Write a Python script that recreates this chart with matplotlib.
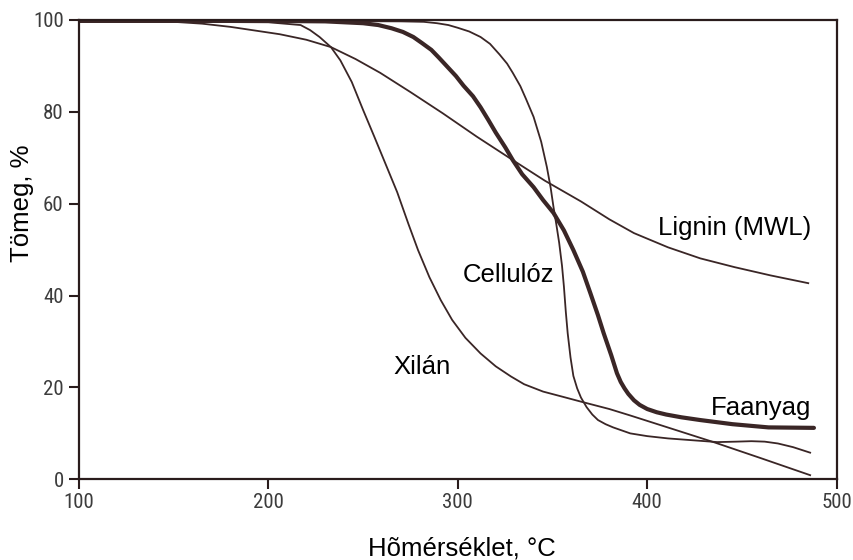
import matplotlib
matplotlib.use("Agg")
import matplotlib.pyplot as plt
from matplotlib import font_manager

# temperature (°C) and residual mass (%) for each sample
xilan_t = [100, 150, 200, 217, 222, 227, 233, 238, 244, 250, 256, 262, 268, 274,
           279, 285, 291, 297, 304, 312, 320, 328, 335, 345, 356, 366, 380, 391,
           410, 435, 460, 486]
xilan_m = [99.6, 99.6, 99.5, 98.9, 97.8, 96.3, 94.1, 91.2, 86.5, 80.4, 74.5, 68.5,
           62.5, 55.5, 49.9, 44.0, 39.0, 34.7, 30.8, 27.4, 24.6, 22.4, 20.7, 19.1,
           17.9, 16.8, 15.3, 13.9, 11.4, 8.1, 4.6, 0.9]

cell_t = [100, 200, 270, 282, 289, 295, 300, 306, 312, 317, 322, 326, 329, 333,
          336, 340, 344, 347, 349, 350.5, 352, 353.5, 355, 356, 357, 358, 359.5,
          361, 363, 365, 368, 371, 374, 378, 382, 391, 400, 411, 424, 437, 447,
          455, 462, 469, 477, 486]
cell_m = [99.8, 99.8, 99.7, 99.6, 99.3, 98.9, 98.3, 97.5, 96.3, 94.8, 92.5, 90.5,
          88.5, 85.6, 82.8, 78.9, 73.5, 68.0, 63.5, 59.3, 55.5, 51.5, 46.5, 42.0,
          36.5, 31.8, 26.5, 22.5, 19.8, 17.8, 15.7, 14.1, 12.9, 12.0, 11.3, 10.0,
          9.4, 8.9, 8.5, 8.1, 8.2, 8.3, 8.2, 7.8, 7.0, 5.8]

fa_t = [100, 200, 230, 250, 258, 265, 271, 276.5, 281, 286, 290, 294.5, 299, 303,
        308, 312, 316, 320, 325, 329, 334, 340, 345, 350.5, 356, 361, 366, 370,
        374, 377, 381, 384, 386, 388, 390, 393, 396, 400, 405, 410, 418, 428,
        445, 464, 488]
fa_m = [99.8, 99.8, 99.7, 99.3, 98.9, 98.2, 97.4, 96.3, 95.0, 93.5, 91.8, 89.8,
        87.8, 85.7, 83.4, 81.0, 78.3, 75.5, 72.3, 69.5, 66.4, 63.6, 60.8, 58.0,
        54.2, 49.9, 45.2, 40.5, 35.7, 31.8, 27.0, 23.1, 21.2, 19.8, 18.6, 17.2,
        16.2, 15.3, 14.6, 14.1, 13.5, 12.9, 12.0, 11.3, 11.2]

lig_t = [100, 150, 165, 180, 193, 206, 220, 233, 246, 259, 275, 292, 310, 329,
         346, 365, 380, 393, 411, 428, 446, 465, 485]
lig_m = [99.8, 99.6, 99.2, 98.5, 97.7, 96.9, 95.7, 94.1, 91.5, 88.5, 84.3, 79.7,
         74.6, 69.5, 65.0, 60.5, 56.6, 53.6, 50.5, 48.1, 46.2, 44.4, 42.7]

xticks = [100, 200, 300, 400, 500]
yticks = [0, 20, 40, 60, 80, 100]

# curve labels: text, x, y
labels = [("Lignin (MWL)", 405.5, 54.7),
          ("Cellulóz", 302.5, 44.4),
          ("Xilán", 266.0, 24.4),
          ("Faanyag", 433.5, 15.5)]

names = {f.name for f in font_manager.fontManager.ttflist}
tick_font = "DejaVu Sans"
for cand in ["Liberation Sans Narrow", "Roboto Condensed", "DejaVu Sans"]:
    if cand in names:
        tick_font = cand
        break
text_font = "Liberation Sans" if "Liberation Sans" in names else "DejaVu Sans"

ink = "#3a2626"

fig = plt.figure(figsize=(8.54, 5.6), dpi=100)
ax = fig.add_axes([0.0925, 0.1441, 0.8872, 0.8202])

ax.plot(lig_t, lig_m, color=ink, lw=1.3, solid_joinstyle="round")
ax.plot(xilan_t, xilan_m, color=ink, lw=1.3, solid_joinstyle="round")
ax.plot(cell_t, cell_m, color=ink, lw=1.3, solid_joinstyle="round")
ax.plot(fa_t, fa_m, color=ink, lw=3.0, solid_capstyle="round",
        solid_joinstyle="round")

ax.set_xlim(100, 500)
ax.set_ylim(0, 100)
ax.set_xticks(xticks)
ax.set_yticks(yticks)

for s in ax.spines.values():
    s.set_color("#2a1c1c")
    s.set_linewidth(1.6)

ax.tick_params(direction="out", length=7, width=1.5, color="#2a1c1c",
               labelcolor="#3c3c3c", labelsize=15)
ax.tick_params(axis="x", pad=3)
ax.tick_params(axis="y", pad=4)
for lab in ax.get_xticklabels() + ax.get_yticklabels():
    lab.set_family(tick_font)

for txt, x, y in labels:
    ax.text(x, y, txt, fontsize=18.5, family=text_font, va="center", ha="left",
            color="black")

ax.set_xlabel("Hõmérséklet, °C", fontsize=18.5, family=text_font, va="center")
ax.xaxis.set_label_coords(0.5055, -0.1496)
ax.set_ylabel("Tömeg, %", fontsize=18.5, family=text_font, va="center")
ax.yaxis.set_label_coords(-0.0752, 0.6016)

fig.savefig("out.png", dpi=100)
